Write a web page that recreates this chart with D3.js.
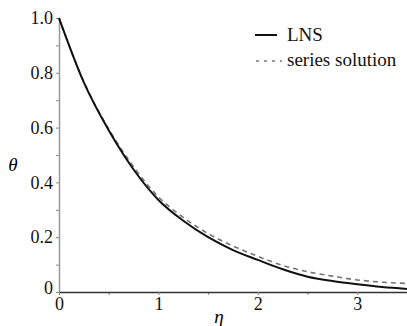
<!DOCTYPE html>
<html>
<head>
    <script src="https://d3js.org/d3.v7.min.js"></script>
</head>
<body style="margin:0">
    <svg id="plot" width="407" height="326"></svg>
    <script>
        // values
        const eta = [0, 0.25, 0.5, 0.75, 1.0, 1.25, 1.5, 1.75, 2.0, 2.25, 2.5, 2.75, 3.0, 3.25, 3.5];
        const lns = [1.0, 0.765, 0.59, 0.447, 0.336, 0.26, 0.2, 0.153, 0.117, 0.083, 0.056, 0.04, 0.028, 0.018, 0.011];
        const series = [1.0, 0.767, 0.595, 0.457, 0.347, 0.272, 0.213, 0.168, 0.13, 0.097, 0.074, 0.058, 0.044, 0.036, 0.031];
        const xTicks = [0, 1, 2, 3];
        const yTicks = [0, 0.2, 0.4, 0.6, 0.8, 1.0];
        const seriesNames = ['LNS', 'series solution'];

        const serif = `'Liberation Serif'`;

        const svg = d3.select('svg#plot');
        const margins = {top: 18, right: 0, bottom: 34, left: 59};
        const width = +svg.attr('width');
        const height = +svg.attr('height');
        const chartWidth = width - margins.left - margins.right;
        const chartHeight = height - margins.top - margins.bottom;

        const xScale = d3.scaleLinear().domain([0, 3.5]).range([0, chartWidth]);
        const yScale = d3.scaleLinear().domain([0, 1]).range([chartHeight, 0]);

        const chartArea = svg.append('g')
            .attr('transform', `translate(${margins.left},${margins.top})`);

        // minor ticks
        chartArea.append('g')
            .attr('transform', `translate(0,${chartHeight})`)
            .call(d3.axisBottom(xScale).tickValues(d3.range(0.5, 3.51, 1)).tickSize(3).tickFormat(''))
            .call(g => g.select('.domain').remove())
            .call(g => g.selectAll('line').attr('stroke', '#888'));
        chartArea.append('g')
            .call(d3.axisLeft(yScale).tickValues(d3.range(0.1, 1, 0.2)).tickSize(3).tickFormat(''))
            .call(g => g.select('.domain').remove())
            .call(g => g.selectAll('line').attr('stroke', '#888'));

        // y axis
        chartArea.append('g')
            .call(d3.axisLeft(yScale).tickValues(yTicks).tickSize(3).tickSizeOuter(0)
                .tickFormat(d => d === 0 ? '0' : d3.format('.1f')(d)))
            .attr('font-family', null)
            .call(g => g.select('.domain').attr('stroke', '#999').attr('stroke-width', 1.5))
            .call(g => g.selectAll('line').attr('stroke', '#888'))
            .call(g => g.selectAll('text')
                .style('font-family', serif).style('font-size', '18px')
                .attr('fill', '#111').attr('x', -6)
                .attr('dy', d => d === 0 ? '0.1em' : '0.32em'));

        // x axis
        chartArea.append('g')
            .attr('transform', `translate(0,${chartHeight})`)
            .call(d3.axisBottom(xScale).tickValues(xTicks).tickSize(3).tickSizeOuter(0).tickFormat(d3.format('d')))
            .attr('font-family', null)
            .call(g => g.select('.domain').attr('stroke', '#333').attr('stroke-width', 1.3))
            .call(g => g.selectAll('line').attr('stroke', '#888'))
            .call(g => g.selectAll('text')
                .style('font-family', serif).style('font-size', '18px')
                .attr('fill', '#111').attr('y', 5));

        // axis titles
        svg.append('text')
            .attr('x', 13).attr('y', 171)
            .attr('text-anchor', 'middle')
            .style('font-family', serif).style('font-style', 'italic').style('font-size', '19px')
            .text('θ');
        svg.append('text')
            .attr('x', 219).attr('y', 323)
            .attr('text-anchor', 'middle')
            .style('font-family', serif).style('font-style', 'italic').style('font-size', '19px')
            .text('η');

        const line = d3.line()
            .x(d => xScale(d[0]))
            .y(d => yScale(d[1]))
            .curve(d3.curveMonotoneX);

        chartArea.append('path')
            .datum(eta.map((e, i) => [e, series[i]]))
            .attr('d', line)
            .attr('fill', 'none')
            .attr('stroke', '#777')
            .attr('stroke-width', 1.6)
            .attr('stroke-dasharray', '5,4');

        chartArea.append('path')
            .datum(eta.map((e, i) => [e, lns[i]]))
            .attr('d', line)
            .attr('fill', 'none')
            .attr('stroke', '#111')
            .attr('stroke-width', 2);

        // legend
        const legend = svg.append('g');
        legend.append('line')
            .attr('x1', 255).attr('x2', 277).attr('y1', 35).attr('y2', 35)
            .attr('stroke', '#111').attr('stroke-width', 2);
        legend.append('line')
            .attr('x1', 256).attr('x2', 282).attr('y1', 61).attr('y2', 61)
            .attr('stroke', '#777').attr('stroke-width', 1.6).attr('stroke-dasharray', '3,5');
        legend.selectAll('text.lab')
            .data(seriesNames)
            .enter()
            .append('text')
            .attr('class', 'lab')
            .attr('x', 287)
            .attr('y', (d, i) => 41 + i * 25)
            .style('font-family', serif).style('font-size', '19px')
            .attr('fill', '#111')
            .text(d => d);
    </script>
</body>
</html>
